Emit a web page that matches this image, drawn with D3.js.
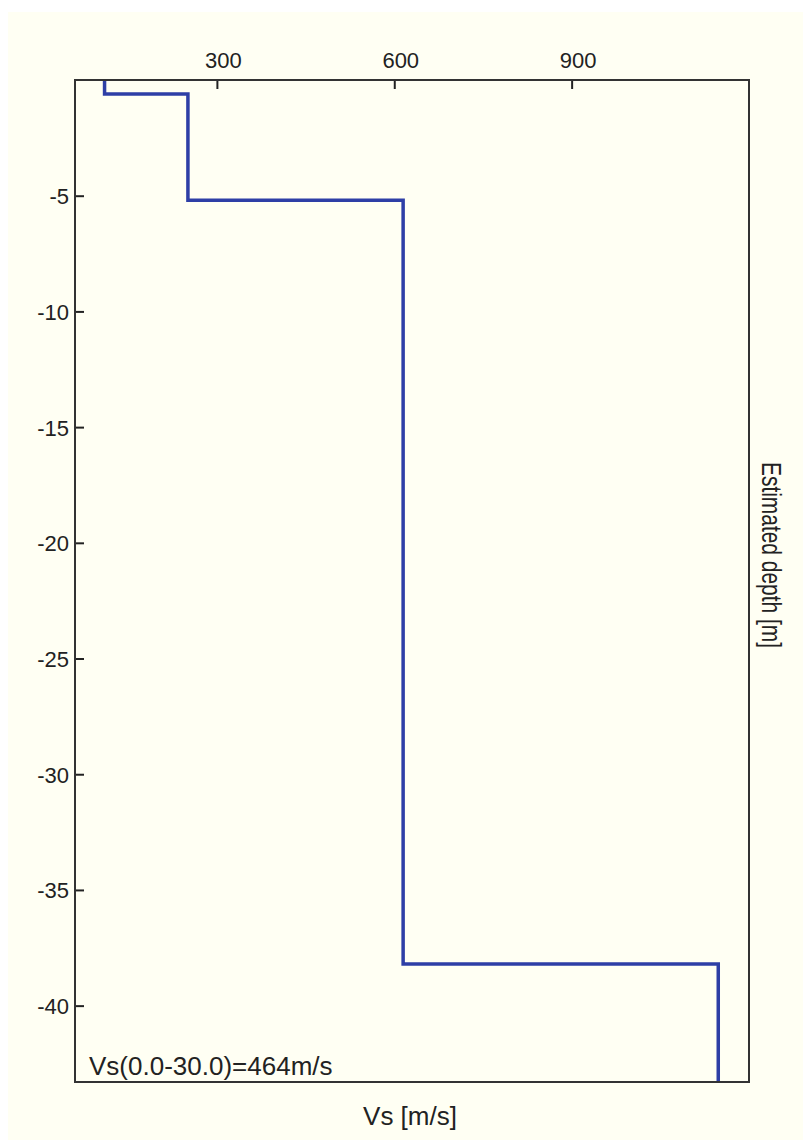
<!DOCTYPE html>
<html><head><meta charset="utf-8">
<script src="https://cdn.jsdelivr.net/npm/d3@7"></script>
<style>html,body{margin:0;padding:0;background:#fff;}svg{display:block;}</style>
</head><body>
<script>
// Layer data: shear-wave velocity (m/s) and layer bottom depth (m)
const vsValues = [110, 251, 615, 1148];
const layerBottoms = [-0.6, -5.2, -38.2, -43.3];
const xTicks = [300, 600, 900];
const yTicks = [-5, -10, -15, -20, -25, -30, -35, -40];
const xLabel = "Vs [m/s]";
const yLabel = "Estimated depth [m]";
const annotation = "Vs(0.0-30.0)=464m/s";

const W = 803, H = 1140;
const mL = 75, mR = 749, mT = 80, mB = 1082;

const svg = d3.select("body").append("svg").attr("width", W).attr("height", H);
svg.append("rect").attr("x", 8).attr("y", 12).attr("width", W - 8).attr("height", H - 12).attr("fill", "#fffff3");

const x = d3.scaleLinear().domain([60, 1200]).range([mL, mR]);
const y = d3.scaleLinear().domain([0, -43.3]).range([mT, mB]);

const font = "'Liberation Sans', Arial, sans-serif";
const fmt = d => String(d);

// step profile
const pts = [];
let layerTop = 0;
vsValues.forEach((v, i) => {
  pts.push([v, layerTop]);
  pts.push([v, layerBottoms[i]]);
  layerTop = layerBottoms[i];
});
const line = d3.line().x(d => x(d[0])).y(d => y(d[1]));
svg.append("path").datum(pts).attr("d", line)
  .attr("fill", "none").attr("stroke", "#2e3fa6").attr("stroke-width", 3.5)
  .attr("stroke-linejoin", "miter").attr("stroke-linecap", "butt");

// top axis
const xAxis = d3.axisTop(x).tickValues(xTicks).tickSize(-9).tickPadding(0).tickFormat(fmt);
const gx = svg.append("g").attr("transform", `translate(0,${mT})`).call(xAxis);
gx.select(".domain").remove();
gx.selectAll(".tick line").attr("stroke", "#222").attr("stroke-width", 2);
gx.selectAll(".tick text").attr("font-family", font).attr("font-size", 22).attr("fill", "#222")
  .attr("dy", 0).attr("y", -12).attr("x", 6).attr("text-anchor", "middle");

// left axis
const yAxis = d3.axisLeft(y).tickValues(yTicks).tickSize(-9).tickPadding(0).tickFormat(fmt);
const gy = svg.append("g").attr("transform", `translate(${mL},0)`).call(yAxis);
gy.select(".domain").remove();
gy.selectAll(".tick line").attr("stroke", "#222").attr("stroke-width", 2);
gy.selectAll(".tick text").attr("font-family", font).attr("font-size", 22).attr("fill", "#222")
  .attr("x", -6).attr("dy", "0.36em").attr("text-anchor", "end");

// frame
svg.append("rect").attr("x", mL).attr("y", mT).attr("width", mR - mL).attr("height", mB - mT)
  .attr("fill", "none").attr("stroke", "#333").attr("stroke-width", 2);

// labels
svg.append("text").attr("x", 410).attr("y", 1125).attr("text-anchor", "middle")
  .attr("font-family", font).attr("font-size", 26).attr("fill", "#222").text(xLabel);
svg.append("text").attr("transform", "translate(762,555) rotate(90)").attr("text-anchor", "middle")
  .attr("font-family", font).attr("font-size", 28).attr("fill", "#222")
  .attr("textLength", 186).attr("lengthAdjust", "spacingAndGlyphs").text(yLabel);
svg.append("text").attr("x", 89).attr("y", 1075)
  .attr("font-family", font).attr("font-size", 26).attr("fill", "#222").text(annotation);
</script>
</body></html>
